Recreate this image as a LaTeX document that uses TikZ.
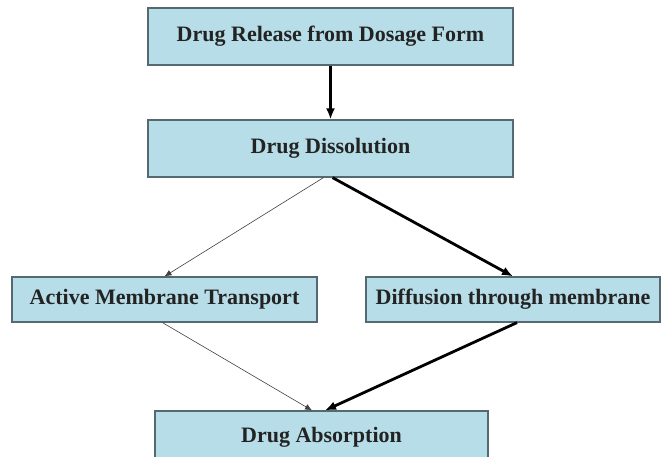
\documentclass[tikz,border=0pt]{standalone}
\usepackage{fontspec}
\setmainfont{Liberation Serif}
\usepackage{tikz}
\usetikzlibrary{shapes,arrows,arrows.meta,positioning,fit,calc}

\definecolor{boxfill}{RGB}{183,222,232}
\definecolor{boxline}{RGB}{85,105,115}
\definecolor{boxtext}{RGB}{35,35,35}

\tikzset{
    stagebox/.style={draw=boxline, line width=1.2pt, fill=boxfill, text=boxtext,
        font=\fontsize{22}{26}\selectfont\bfseries, inner sep=0pt},
    heavy/.style={-{Latex[length=11pt,width=9pt]}, line width=2.8pt, black},
    light/.style={-{Latex[length=7pt,width=6pt]}, line width=0.6pt, black!75}
}

\begin{document}
\begin{tikzpicture}[x=1pt,y=-1pt]
            \useasboundingbox (0,0) rectangle (661,457);
            % boxes
            \node[stagebox, minimum width=365pt, minimum height=57pt] (release) at (330.5,36.5) {Drug Release from Dosage Form};
            \node[stagebox, minimum width=365pt, minimum height=57pt] (dissolve) at (330.5,148.5) {Drug Dissolution};
            \node[stagebox, minimum width=305pt, minimum height=45pt] (active) at (164.5,299.5) {Active Membrane Transport};
            \node[stagebox, minimum width=294pt, minimum height=45pt] (diffuse) at (513,299.5) {Diffusion through membrane};
            \node[stagebox, minimum width=333pt, minimum height=52pt] (absorb) at (321.5,437) {Drug Absorption};
            % arrows
            \draw[heavy] (release.south) -- (dissolve.north);
            \draw[light] ([xshift=-7pt]dissolve.south) -- (active.north);
            \draw[heavy] ([xshift=2pt]dissolve.south) -- (diffuse.north);
            \draw[light] ([xshift=-2pt]active.south) -- ([xshift=-9.5pt]absorb.north);
            \draw[heavy] ([xshift=4pt]diffuse.south) -- ([xshift=3.5pt]absorb.north);
        \end{tikzpicture}
\end{document}
